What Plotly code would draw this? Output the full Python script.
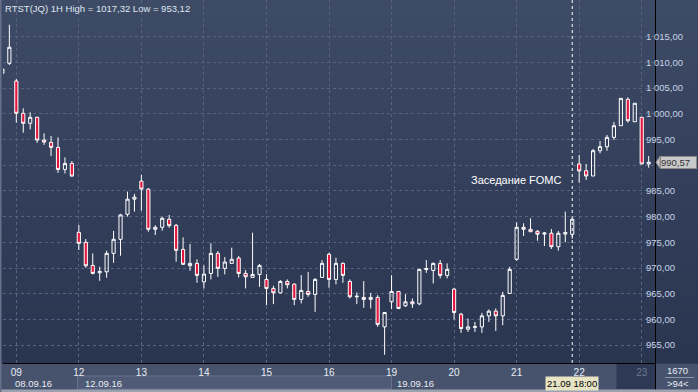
import plotly.graph_objects as go

# ---------------- data ----------------
day_labels = ["09", "12", "13", "14", "15", "16", "19", "20", "21", "22", "23"]
day_first_idx = [2, 11, 20, 29, 38, 47, 56, 65, 74, 83, 92]
week_labels = ["08.09.16", "12.09.16", "19.09.16"]
fomc_idx = 82
fomc_label = "21.09 18:00"
fomc_text = "Заседание FOMC"
corner_top = "1670"
corner_bottom = ">94<"

opens = [1007.9, 1009.82, 1006.38, 1000.1, 998.15, 999.32, 994.89, 994.44, 993.47, 989.18,
         990.35, 976.94, 974.99, 970.51, 969.06, 969.26, 972.85, 975.58, 980.46, 983.39,
         986.9, 985.35, 977.53, 977.92, 979.48, 978.31, 973.63, 970.43, 970.9, 967.31,
         968.95, 972.85, 969.93, 970.9, 971.94, 968.95, 968.17, 968.75, 967.78, 966.03,
         965.17, 967.39, 966.87, 963.89, 965.44, 964.86, 968.17, 972.67, 967.78, 970.9,
         967.39, 964.4, 964.28, 963.89, 964.28, 958.55, 963.42, 965.44, 962.64, 963.42,
         963.03, 969.7, 969.53, 970.9, 968.57, 965.89, 961.02, 958.1, 958.45, 958.55,
         960.69, 961.61, 960.69, 965.05, 971.69, 977.92, 977.53, 977.14, 976.6, 976.76,
         974.14, 976.6, 976.56, 990.24, 988.93, 987.9, 992.82, 993.6, 995.42, 997.68,
         1002.82, 998.46, 999.32, 990.24]
highs = [1009.0, 1017.32, 1006.77, 1001.07, 1000.29, 999.43, 996.2, 995.68, 995.42, 991.53,
         990.8, 978.37, 975.64, 972.85, 970.24, 973.36, 977.21, 980.52, 984.87, 984.42,
         988.12, 985.54, 978.31, 979.99, 980.33, 978.56, 975.97, 974.67, 971.69, 970.51,
         974.81, 973.3, 972.14, 973.95, 972.33, 969.59, 976.87, 970.77, 968.82, 966.54,
         967.65, 967.78, 967.0, 968.62, 969.21, 968.04, 971.55, 972.98, 972.0, 971.1,
         967.78, 965.25, 967.45, 965.17, 964.72, 961.35, 968.62, 965.5, 964.92, 964.08,
         969.8, 971.55, 971.1, 971.55, 970.9, 966.15, 961.28, 960.18, 959.52, 961.28,
         961.94, 962.14, 965.37, 970.24, 978.9, 978.7, 979.68, 977.39, 977.0, 977.59,
         977.21, 980.97, 979.6, 991.99, 990.24, 993.15, 994.71, 995.87, 998.41, 1003.0,
         1003.2, 1002.05, 999.32, 991.78]
lows = [1007.6, 1009.49, 998.27, 996.32, 996.98, 994.36, 993.95, 991.77, 988.51, 988.39,
        987.8, 973.5, 970.04, 968.75, 967.51, 968.1, 971.02, 972.39, 979.99, 980.97,
        981.16, 977.06, 976.42, 977.26, 977.84, 971.23, 970.58, 969.47, 967.12, 966.03,
        967.78, 968.29, 968.75, 970.9, 968.17, 966.03, 968.17, 966.34, 962.77, 962.97,
        965.05, 966.03, 962.77, 963.11, 964.4, 961.47, 968.17, 966.15, 966.81, 967.12,
        964.08, 962.97, 962.25, 962.13, 958.55, 953.12, 961.99, 962.0, 962.42, 962.25,
        962.77, 969.06, 967.0, 967.98, 967.98, 959.99, 957.37, 957.57, 957.57, 957.37,
        959.52, 957.76, 958.87, 965.05, 971.41, 976.23, 977.06, 975.31, 974.28, 973.69,
        973.37, 975.0, 975.7, 986.6, 987.13, 987.9, 992.31, 992.82, 994.89, 997.68,
        998.27, 998.46, 990.24, 989.52]
closes = [1008.7, 1012.95, 1000.1, 998.15, 999.32, 994.89, 994.5, 993.47, 989.18, 990.35,
          987.88, 974.8, 970.43, 968.95, 969.34, 972.85, 975.58, 980.33, 983.39, 983.78,
          985.35, 977.53, 977.92, 979.68, 978.23, 973.44, 970.72, 970.9, 968.57, 968.82,
          972.85, 969.93, 971.16, 971.69, 968.95, 968.29, 968.75, 970.51, 966.03, 965.17,
          967.39, 966.74, 963.89, 965.64, 964.86, 967.78, 970.9, 967.78, 970.9, 968.57,
          964.4, 964.5, 963.89, 964.28, 959.02, 961.35, 965.44, 962.13, 963.42, 963.03,
          969.73, 969.9, 970.9, 968.57, 969.73, 961.35, 958.23, 958.55, 958.6, 960.69,
          961.61, 960.69, 964.67, 969.73, 977.92, 977.53, 977.06, 976.56, 976.8, 974.14,
          976.76, 976.9, 979.48, 988.88, 987.9, 992.82, 993.6, 995.42, 997.68, 1003.0,
          998.66, 1002.05, 990.24, 990.57]
candle_idx = list(range(len(opens)))
price_ticks = list(range(955, 1020, 5))

# ---------------- layout helpers ----------------
W, H = 698, 392
ML, MR, MT, MB = 3, 43, 0, 29
PW, PH = W - ML - MR, H - MT - MB
FONT = "Liberation Sans, Arial, sans-serif"
FS = 9.5


def px(xp):
    return (xp - ML) / PW


def py(yp):
    return (H - MB - yp) / PH


def fmt(v, sep=" "):
    return f"{v:,.2f}".replace(",", sep).replace(".", ",")


last = closes[-1]
shapes = []
# vertical gradient background (plot + right axis panel)
top_c, bot_c = (0x3E, 0x4B, 0x66), (0x2A, 0x35, 0x50)
N = 60
for i in range(N):
    t = i / (N - 1)
    c = tuple(round(a + (b - a) * t) for a, b in zip(top_c, bot_c))
    shapes.append(dict(type="rect", xref="paper", yref="paper", x0=px(0), x1=px(W),
                       y1=py(PH * i / N) + 0.002, y0=py(PH * (i + 1) / N) - 0.002,
                       fillcolor="rgb(%d,%d,%d)" % c, line_width=0, layer="below"))
# bottom panel decorations
shapes.append(dict(type="rect", xref="paper", yref="paper", x0=px(77.5), x1=px(391.5),
                   y0=py(389), y1=py(376), fillcolor="#4f5b76",
                   line=dict(color="#67728c", width=1), layer="below"))
shapes.append(dict(type="rect", xref="paper", yref="paper", x0=px(616.5), x1=px(655),
                   y0=py(389), y1=py(363), fillcolor="#2e3a55", line_width=0, layer="below"))
shapes.append(dict(type="line", xref="paper", yref="paper", x0=px(665), x1=px(694),
                   y0=py(377.5), y1=py(377.5), line=dict(color="#8d96a8", width=1), layer="below"))
shapes.append(dict(type="line", xref="paper", yref="paper", x0=px(655.5), x1=px(655.5),
                   y0=py(390), y1=py(0), line=dict(color="#000000", width=1), layer="below"))
shapes.append(dict(type="rect", xref="paper", yref="paper", x0=px(0), x1=px(W),
                   y0=py(H), y1=py(389.5), fillcolor="#9ba2af", line_width=0, layer="below"))
shapes.append(dict(type="rect", xref="paper", yref="paper", x0=px(0), x1=px(1.5),
                   y0=py(H), y1=py(0), fillcolor="#66708a", line_width=0, layer="below"))
# FOMC marker line
shapes.append(dict(type="line", xref="x", yref="paper", x0=fomc_idx, x1=fomc_idx, y0=0, y1=1,
                   line=dict(color="#ffffff", width=1, dash="dot"), layer="above"))
# last price arrow
shapes.append(dict(type="path", xref="paper", yref="y", xsizemode="pixel", ysizemode="pixel",
                   xanchor=px(660), yanchor=last, path="M 0,6 L -4,0 L 0,-6 Z",
                   fillcolor="#c9c9c9", line=dict(color="#8a8a8a", width=1), layer="above"))

annotations = [
    dict(text="RTST(JQ) 1H High = %s Low = %s" % (fmt(max(highs), ""), fmt(min(lows), "")),
         xref="paper", yref="paper", x=px(3), y=py(8), xanchor="left", yanchor="middle",
         showarrow=False, font=dict(family=FONT, size=FS, color="#dfe6f1")),
    dict(text=fomc_text, xref="x", yref="paper", x=fomc_idx, xshift=-8, y=py(180),
         xanchor="right", yanchor="middle", showarrow=False,
         font=dict(family=FONT, size=11, color="#ffffff")),
    dict(text=fomc_label, xref="x", yref="paper", x=fomc_idx, y=py(383), xanchor="center",
         yanchor="middle", showarrow=False, bgcolor="#e7e3c5", borderpad=1,
         font=dict(family=FONT, size=FS, color="#000000")),
    dict(text=fmt(last), xref="paper", yref="y", x=px(660), y=last, xanchor="left",
         yanchor="middle", showarrow=False, bgcolor="#c9c9c9", bordercolor="#8a8a8a",
         borderwidth=1, borderpad=0, width=35, align="left",
         font=dict(family=FONT, size=FS, color="#333333")),
    dict(text=corner_top, xref="paper", yref="paper", x=px(678), y=py(370.5), xanchor="center",
         yanchor="middle", showarrow=False, font=dict(family=FONT, size=FS, color="#e8edf5")),
    dict(text=corner_bottom, xref="paper", yref="paper", x=px(678), y=py(383.5), xanchor="center",
         yanchor="middle", showarrow=False, font=dict(family=FONT, size=FS, color="#e8edf5")),
]
for lbl, xl in zip(week_labels, [13, 82.5, 395]):
    annotations.append(dict(text=lbl, xref="paper", yref="paper", x=px(xl), y=py(383.3),
                            xanchor="left", yanchor="middle", showarrow=False,
                            font=dict(family=FONT, size=FS, color="#e8edf5")))

tick_text = list(day_labels)
tick_text[-1] = '<span style="color:#6d7891">%s</span>' % day_labels[-1]
# the tick level under the last-price box is hidden by it
price_text = ["" if abs(v - last) < 2.5 else fmt(v) for v in price_ticks]

fig = go.Figure(go.Candlestick(
    x=candle_idx, open=opens, high=highs, low=lows, close=closes,
    increasing=dict(line=dict(color="#ffffff", width=1), fillcolor="rgba(0,0,0,0)"),
    decreasing=dict(line=dict(color="#ffffff", width=1), fillcolor="#e3173e"),
    whiskerwidth=0, showlegend=False, hoverinfo="skip"))

fig.update_layout(
    width=W, height=H, margin=dict(l=ML, r=MR, t=MT, b=MB, pad=0),
    paper_bgcolor="#47536d", plot_bgcolor="rgba(0,0,0,0)",
    boxgap=0.35, showlegend=False,
    shapes=shapes, annotations=annotations,
    xaxis=dict(range=[0.086, 93.91], tickvals=day_first_idx, ticktext=tick_text,
               showgrid=True, gridcolor="#58647f", gridwidth=1, griddash="3px,3px",
               zeroline=False, showline=True, linecolor="#000000", linewidth=1,
               ticks="", ticklabelstandoff=0,
               tickfont=dict(family=FONT, size=10, color="#e8edf5"),
               rangeslider=dict(visible=False), fixedrange=True),
    yaxis=dict(side="right", range=[951.52, 1022.14], tickvals=price_ticks,
               ticktext=price_text, ticklabelstandoff=-10,
               showgrid=True, gridcolor="#58647f", gridwidth=1, griddash="3px,3px",
               zeroline=False, showline=False, ticks="",
               tickfont=dict(family=FONT, size=FS, color="#c6d3e8"), fixedrange=True),
)

fig.write_html("out.html", config={"displayModeBar": False},
               post_script="document.body.style.margin='0px';")
